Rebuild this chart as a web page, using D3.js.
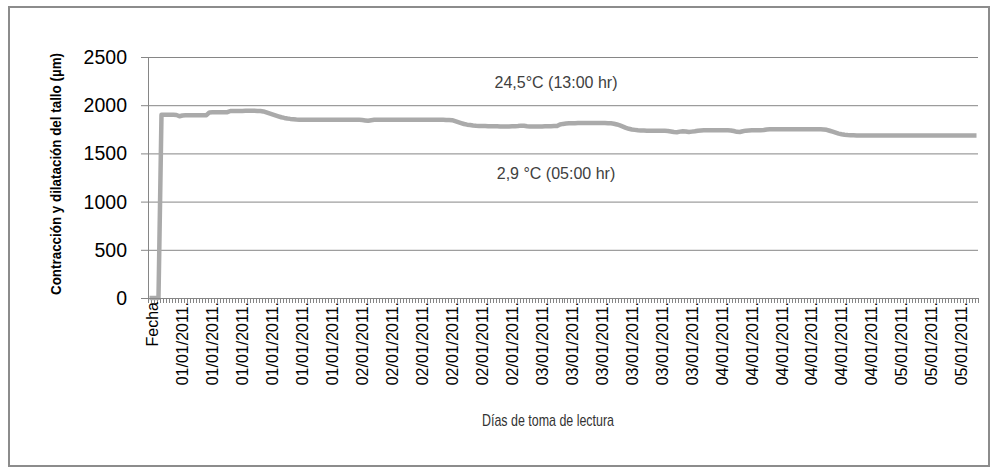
<!DOCTYPE html>
<html>
<head>
<meta charset="utf-8">
<script src="https://d3js.org/d3.v7.min.js"></script>
<style>
  body { margin: 0; background: #fff; }
  text { font-family: "Liberation Sans", Arial, sans-serif; }
</style>
</head>
<body>
<svg id="chart" width="997" height="472"></svg>
<script>
// readings (µm), one per category on the x axis
const values = [
  0, 0, 0, 0, 1900, 1900, 1900, 1900, 1900, 1898,
  1885, 1893, 1895, 1895, 1895, 1895, 1895, 1896, 1896, 1897,
  1925, 1926, 1926, 1926, 1926, 1927, 1928, 1940, 1941, 1941,
  1941, 1941, 1942, 1942, 1942, 1942, 1941, 1940, 1935, 1925,
  1915, 1905, 1895, 1885, 1875, 1868, 1862, 1858, 1855, 1852,
  1850, 1850, 1849, 1849, 1849, 1850, 1850, 1850, 1849, 1849,
  1849, 1849, 1850, 1850, 1850, 1850, 1850, 1850, 1849, 1849,
  1848, 1846, 1842, 1838, 1844, 1848, 1849, 1849, 1850, 1850,
  1850, 1850, 1850, 1850, 1850, 1850, 1850, 1850, 1850, 1850,
  1850, 1850, 1850, 1850, 1850, 1850, 1849, 1849, 1848, 1847,
  1846, 1845, 1835, 1825, 1815, 1805, 1798, 1795, 1790, 1787,
  1785, 1784, 1783, 1782, 1782, 1781, 1781, 1780, 1780, 1780,
  1780, 1781, 1782, 1784, 1788, 1786, 1782, 1780, 1780, 1780,
  1780, 1780, 1781, 1782, 1782, 1783, 1784, 1800, 1806, 1810,
  1812, 1813, 1814, 1815, 1815, 1815, 1815, 1815, 1815, 1815,
  1815, 1815, 1815, 1814, 1812, 1808, 1800, 1790, 1778, 1765,
  1755, 1748, 1744, 1740, 1738, 1737, 1736, 1736, 1735, 1735,
  1735, 1734, 1734, 1733, 1728, 1722, 1720, 1726, 1730, 1728,
  1722, 1726, 1730, 1735, 1738, 1740, 1741, 1741, 1741, 1741,
  1740, 1740, 1740, 1740, 1738, 1732, 1724, 1722, 1730, 1736,
  1738, 1739, 1739, 1740, 1741, 1742, 1748, 1750, 1750, 1750,
  1750, 1750, 1750, 1750, 1750, 1750, 1750, 1750, 1750, 1750,
  1750, 1750, 1750, 1750, 1750, 1749, 1745, 1735, 1725, 1715,
  1705, 1698, 1693, 1690, 1688, 1687, 1686, 1686, 1685, 1685,
  1685, 1685, 1685, 1685, 1685, 1685, 1685, 1685, 1685, 1685,
  1685, 1685, 1685, 1685, 1685, 1685, 1685, 1685, 1685, 1685,
  1685, 1685, 1685, 1685, 1685, 1685, 1685, 1685, 1685, 1685,
  1685, 1685, 1685, 1685, 1685, 1685, 1685
];

// a label is shown on every 10th category
const tickLabels = [
  "Fecha",
  "01/01/2011.", "01/01/2011.", "01/01/2011.", "01/01/2011.", "01/01/2011.", "01/01/2011.",
  "02/01/2011.", "02/01/2011.", "02/01/2011.", "02/01/2011.", "02/01/2011.", "02/01/2011.",
  "03/01/2011.", "03/01/2011.", "03/01/2011.", "03/01/2011.", "03/01/2011.", "03/01/2011.",
  "04/01/2011.", "04/01/2011.", "04/01/2011.", "04/01/2011.", "04/01/2011.", "04/01/2011.",
  "05/01/2011.", "05/01/2011.", "05/01/2011."
];
const labelStep = 10;
const yTicks = [0, 500, 1000, 1500, 2000, 2500];

const notes = [
  { text: "24,5°C (13:00 hr)", value: 2240 },
  { text: "2,9 °C (05:00 hr)", value: 1295 }
];

const svg = d3.select("#chart");
const margin = { left: 148, right: 19, top: 57, bottom: 174 };
const W = 997, H = 472;
const gridColor = "#868686";

// chart border
svg.append("rect")
  .attr("x", 9).attr("y", 7)
  .attr("width", 980).attr("height", 459)
  .attr("fill", "#fff")
  .attr("stroke", "#8c8c8c")
  .attr("stroke-width", 2);

const x = d3.scaleBand()
  .domain(d3.range(values.length))
  .range([margin.left, W - margin.right])
  .padding(0);

const y = d3.scaleLinear()
  .domain([0, 2500])
  .range([H - margin.bottom, margin.top]);

// gridlines + y ticks
svg.append("g")
  .selectAll("line")
  .data(yTicks)
  .join("line")
  .attr("x1", margin.left - 7)
  .attr("x2", W - margin.right)
  .attr("y1", d => y(d) + 0.5)
  .attr("y2", d => y(d) + 0.5)
  .attr("stroke", gridColor)
  .attr("stroke-width", 1);

svg.append("g")
  .selectAll("text")
  .data(yTicks)
  .join("text")
  .attr("x", 127)
  .attr("y", d => y(d))
  .attr("dy", "0.36em")
  .attr("text-anchor", "end")
  .attr("font-size", 19.5)
  .attr("fill", "#000")
  .text(d => d);

// y axis line
svg.append("line")
  .attr("x1", margin.left + 0.5).attr("x2", margin.left + 0.5)
  .attr("y1", y(2500)).attr("y2", y(0))
  .attr("stroke", gridColor);

// x ticks, between categories
const tickPos = d3.range(values.length + 1).map(i => margin.left + i * x.bandwidth());
svg.append("g")
  .selectAll("line")
  .data(tickPos)
  .join("line")
  .attr("x1", d => Math.round(d) + 0.5)
  .attr("x2", d => Math.round(d) + 0.5)
  .attr("y1", y(0))
  .attr("y2", y(0) + 5)
  .attr("stroke", gridColor);

// x labels
svg.append("g")
  .selectAll("text")
  .data(tickLabels)
  .join("text")
  .attr("transform", (d, i) => {
    const cx = x(i * labelStep) + x.bandwidth() / 2 + 3;
    return `translate(${cx},${y(0) + 4}) rotate(-90)`;
  })
  .attr("dy", "0.36em")
  .attr("text-anchor", "end")
  .attr("font-size", 16)
  .attr("fill", "#000")
  .text(d => d);

// the series
const line = d3.line()
  .x((d, i) => x(i) + x.bandwidth() / 2)
  .y(d => y(d));

svg.append("path")
  .datum(values)
  .attr("d", line)
  .attr("fill", "none")
  .attr("stroke", "#aaaaaa")
  .attr("stroke-width", 4.5)
  .attr("stroke-linejoin", "round");

// x axis line
svg.append("line")
  .attr("x1", margin.left).attr("x2", W - margin.right)
  .attr("y1", y(0) + 0.5).attr("y2", y(0) + 0.5)
  .attr("stroke", gridColor);

// temperature notes
svg.append("g")
  .selectAll("text")
  .data(notes)
  .join("text")
  .attr("x", 556)
  .attr("y", d => y(d.value))
  .attr("dy", "0.36em")
  .attr("text-anchor", "middle")
  .attr("font-size", 16)
  .attr("fill", "#404040")
  .text(d => d.text);

// axis titles
svg.append("text")
  .attr("transform", `translate(61,${(y(0) + 50) / 2}) rotate(-90)`)
  .attr("text-anchor", "middle")
  .attr("font-size", 15.5)
  .attr("font-weight", "bold")
  .attr("textLength", 242)
  .attr("lengthAdjust", "spacingAndGlyphs")
  .attr("fill", "#000")
  .text("Contracción y dilatación del tallo (µm)");

svg.append("text")
  .attr("x", 548)
  .attr("y", 426)
  .attr("text-anchor", "middle")
  .attr("font-size", 17)
  .attr("textLength", 132)
  .attr("lengthAdjust", "spacingAndGlyphs")
  .attr("fill", "#333")
  .text("Días de toma de lectura");
</script>
</body>
</html>
